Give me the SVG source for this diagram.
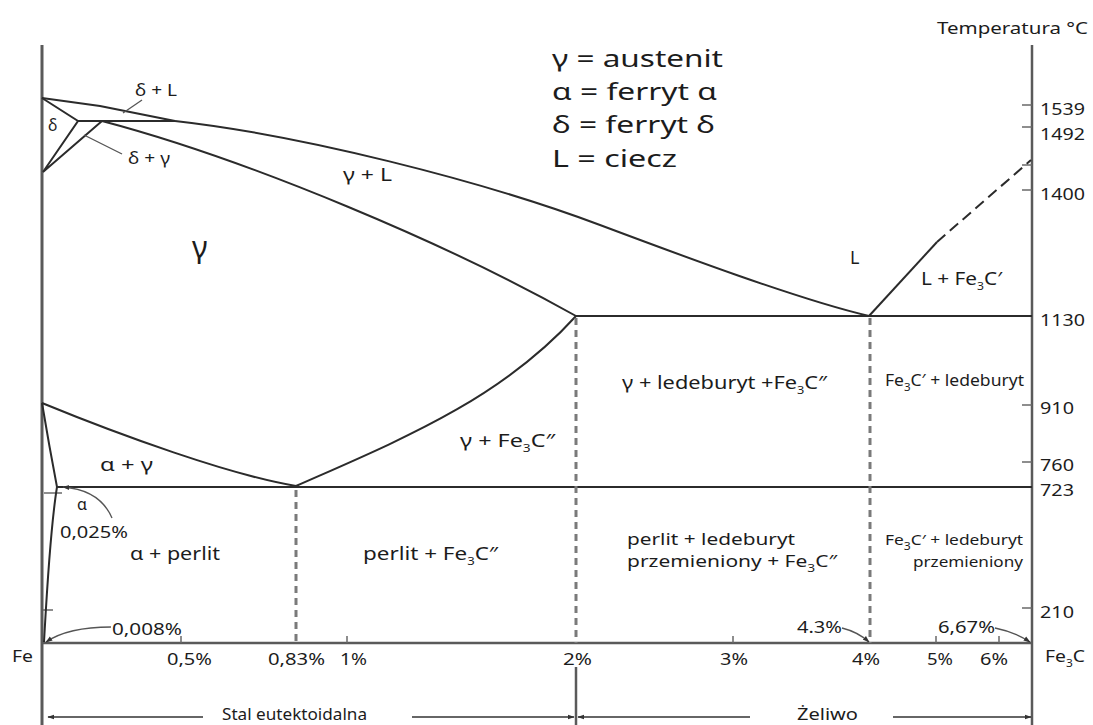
<svg xmlns="http://www.w3.org/2000/svg" width="1093" height="725" viewBox="0 0 1093 725">
<style>
text{font-family:"Noto Sans","Open Sans","Liberation Sans",sans-serif;fill:#1c1c1c}
.lab{font-size:18px}
.two{font-size:16px}
.sm{font-size:16px}
.ax{font-size:17px}
.leg{font-size:24px}
.sub{font-size:10.5px}
.axis{stroke:#5a5a5a;stroke-width:3;fill:none}
.ph{stroke:#2b2b2b;stroke-width:2;fill:none}
.dash{stroke:#7a7a7a;stroke-width:3;fill:none;stroke-dasharray:7 5}
.tick{stroke:#6a6a6a;stroke-width:1.5;fill:none}
.lead{stroke:#555;stroke-width:1.3;fill:none}
.arr{stroke:#333;stroke-width:1.5;fill:none}
</style>
<defs>
<marker id="ah" viewBox="0 0 10 10" refX="9" refY="5" markerWidth="7" markerHeight="7" orient="auto" markerUnits="userSpaceOnUse">
<path d="M0 1.5 L10 5 L0 8.5 Z" fill="#333"/>
</marker>
</defs>
<rect width="1093" height="725" fill="#fff"/>

<g id="axes">
<path class="axis" d="M42 45 V725"/>
<path class="axis" d="M1032 45 V725" style="stroke-width:2.5"/>
<path class="axis" d="M42 643 H1032" style="stroke-width:2.5"/>
<path class="tick" d="M1022 105 H1032 M1022 127 H1032 M1022 165 H1032 M1022 190 H1032 M1022 405 H1032 M1022 462 H1032 M1022 608 H1032"/>
<path class="tick" d="M181 636 V643 M347 636 V643 M733 636 V643 M936 636 V643 M999 636 V643"/>
<path class="tick" d="M43 610 H53 M44 493 H62"/>
</g>

<g id="phase-lines">
<path class="ph" d="M42 98 L100 106 L175 121"/>
<path class="ph" d="M175 121 C300 135 480 180 600 225 C680 255 800 300 869 316"/>
<path class="ph" d="M42 98 L78 121 L43 172 L102 121 M78 121 H175"/>
<path class="ph" d="M102 121 C250 160 450 245 576 316"/>
<path class="ph" d="M576 316 H1032"/>
<path class="ph" d="M869 316 L937 242"/>
<path class="ph" d="M937 242 L1031 160" style="stroke-dasharray:11 6"/>
<path class="ph" d="M42 403 C120 435 230 475 296 486"/>
<path class="ph" d="M296 486 C400 440 500 400 576 316"/>
<path class="ph" d="M42 403 Q49 445 57 487"/>
<path class="ph" d="M57 487 C50 530 47 590 44 642"/>
<path class="ph" d="M57 487 H1032"/>
</g>

<g id="dashed-verticals">
<path class="dash" d="M296 490 V643"/>
<path class="dash" d="M576 318 V643"/>
<path class="dash" d="M870 318 V643"/>
<path class="axis" d="M576 667 V725" style="stroke-width:2.5"/>
</g>

<g id="leaders">
<path class="lead" d="M123 113 L142 100"/>
<path class="lead" d="M84 135 L122 154"/>
<path class="lead" d="M112 518 Q100 490 63 487" marker-end="url(#ah)"/>
<path class="lead" d="M111 627 Q68 627 46 642" marker-end="url(#ah)"/>
<path class="lead" d="M842 628 Q858 632 869 642" marker-end="url(#ah)"/>
<path class="lead" d="M995 628 Q1015 632 1030 642" marker-end="url(#ah)"/>
</g>

<g id="range-arrows">
<path class="arr" d="M203 717 H48" marker-end="url(#ah)"/>
<path class="arr" d="M412 717 H574" marker-end="url(#ah)"/>
<path class="arr" d="M750 717 H578" marker-end="url(#ah)"/>
<path class="arr" d="M893 717 H1031" marker-end="url(#ah)"/>
</g>

<g id="legend">
<text class="leg" x="552" y="67" textLength="171" lengthAdjust="spacingAndGlyphs">γ = austenit</text>
<text class="leg" x="552" y="100" textLength="165" lengthAdjust="spacingAndGlyphs">α = ferryt α</text>
<text class="leg" x="552" y="133" textLength="163" lengthAdjust="spacingAndGlyphs">δ = ferryt δ</text>
<text class="leg" x="552" y="167" textLength="125" lengthAdjust="spacingAndGlyphs">L = ciecz</text>
</g>

<g id="temperature-axis">
<text class="ax" x="937" y="34" textLength="151" lengthAdjust="spacingAndGlyphs">Temperatura °C</text>
<text class="ax" x="1040" y="115" textLength="45" lengthAdjust="spacingAndGlyphs">1539</text>
<text class="ax" x="1040" y="140" textLength="45" lengthAdjust="spacingAndGlyphs">1492</text>
<text class="ax" x="1040" y="200" textLength="45" lengthAdjust="spacingAndGlyphs">1400</text>
<text class="ax" x="1040" y="326" textLength="45" lengthAdjust="spacingAndGlyphs">1130</text>
<text class="ax" x="1040" y="414" textLength="34" lengthAdjust="spacingAndGlyphs">910</text>
<text class="ax" x="1040" y="471" textLength="34" lengthAdjust="spacingAndGlyphs">760</text>
<text class="ax" x="1040" y="496" textLength="34" lengthAdjust="spacingAndGlyphs">723</text>
<text class="ax" x="1040" y="618" textLength="34" lengthAdjust="spacingAndGlyphs">210</text>
</g>

<g id="composition-axis">
<text class="ax" x="12" y="662" textLength="21" lengthAdjust="spacingAndGlyphs">Fe</text>
<text class="ax" x="167" y="665" textLength="45" lengthAdjust="spacingAndGlyphs">0,5%</text>
<text class="ax" x="268" y="665" textLength="57" lengthAdjust="spacingAndGlyphs">0,83%</text>
<text class="ax" x="340" y="665" textLength="27" lengthAdjust="spacingAndGlyphs">1%</text>
<text class="ax" x="563" y="665" textLength="29" lengthAdjust="spacingAndGlyphs">2%</text>
<text class="ax" x="720" y="665" textLength="28" lengthAdjust="spacingAndGlyphs">3%</text>
<text class="ax" x="852" y="665" textLength="28" lengthAdjust="spacingAndGlyphs">4%</text>
<text class="ax" x="927" y="665" textLength="26" lengthAdjust="spacingAndGlyphs">5%</text>
<text class="ax" x="980" y="665" textLength="28" lengthAdjust="spacingAndGlyphs">6%</text>
<text class="ax" x="1045" y="662" textLength="40" lengthAdjust="spacingAndGlyphs">Fe<tspan class="sub" dy="5">3</tspan><tspan dy="-5">C</tspan></text>
<text class="ax" x="112" y="635" textLength="70" lengthAdjust="spacingAndGlyphs">0,008%</text>
<text class="ax" x="797" y="633" textLength="45" lengthAdjust="spacingAndGlyphs">4.3%</text>
<text class="ax" x="938" y="633" textLength="57" lengthAdjust="spacingAndGlyphs">6,67%</text>
<text class="ax" x="222" y="720" style="font-size:16.5px" textLength="145" lengthAdjust="spacingAndGlyphs">Stal eutektoidalna</text>
<text class="ax" x="797" y="720" style="font-size:16.5px" textLength="61" lengthAdjust="spacingAndGlyphs">Żeliwo</text>
</g>

<g id="regions">
<text class="sm" x="135" y="96" textLength="42" lengthAdjust="spacingAndGlyphs">δ + L</text>
<text class="sm" x="48" y="131">δ</text>
<text class="sm" x="128" y="164" textLength="42" lengthAdjust="spacingAndGlyphs">δ + γ</text>
<text style="font-size:30px" x="192" y="258">γ</text>
<text class="lab" x="343" y="181" textLength="49" lengthAdjust="spacingAndGlyphs">γ + L</text>
<text class="lab" x="850" y="264">L</text>
<text class="lab" x="921" y="285" textLength="81" lengthAdjust="spacingAndGlyphs">L + Fe<tspan class="sub" dy="5">3</tspan><tspan dy="-5">C′</tspan></text>
<text class="lab" x="622" y="389" textLength="205" lengthAdjust="spacingAndGlyphs">γ + ledeburyt +Fe<tspan class="sub" dy="5">3</tspan><tspan dy="-5">C″</tspan></text>
<text class="sm" x="885" y="386" textLength="139" lengthAdjust="spacingAndGlyphs">Fe<tspan class="sub" dy="5">3</tspan><tspan dy="-5">C′ + ledeburyt</tspan></text>
<text class="lab" x="460" y="447" textLength="95" lengthAdjust="spacingAndGlyphs">γ + Fe<tspan class="sub" dy="5">3</tspan><tspan dy="-5">C″</tspan></text>
<text class="lab" x="100" y="471" textLength="53" lengthAdjust="spacingAndGlyphs">α + γ</text>
<text class="sm" x="77" y="510">α</text>
<text class="ax" x="60" y="538" textLength="68" lengthAdjust="spacingAndGlyphs">0,025%</text>
<text class="lab" x="130" y="560" textLength="90" lengthAdjust="spacingAndGlyphs">α + perlit</text>
<text class="lab" x="363" y="560" textLength="135" lengthAdjust="spacingAndGlyphs">perlit + Fe<tspan class="sub" dy="5">3</tspan><tspan dy="-5">C″</tspan></text>
<text class="two" x="627" y="545" textLength="168" lengthAdjust="spacingAndGlyphs">perlit + ledeburyt</text>
<text class="two" x="627" y="567" textLength="210" lengthAdjust="spacingAndGlyphs">przemieniony + Fe<tspan class="sub" dy="5">3</tspan><tspan dy="-5">C″</tspan></text>
<text class="sm" x="885" y="545" style="font-size:15px" textLength="138" lengthAdjust="spacingAndGlyphs">Fe<tspan class="sub" dy="5">3</tspan><tspan dy="-5">C′ + ledeburyt</tspan></text>
<text class="sm" x="913" y="567" style="font-size:15px" textLength="110" lengthAdjust="spacingAndGlyphs">przemieniony</text>
</g>
</svg>
